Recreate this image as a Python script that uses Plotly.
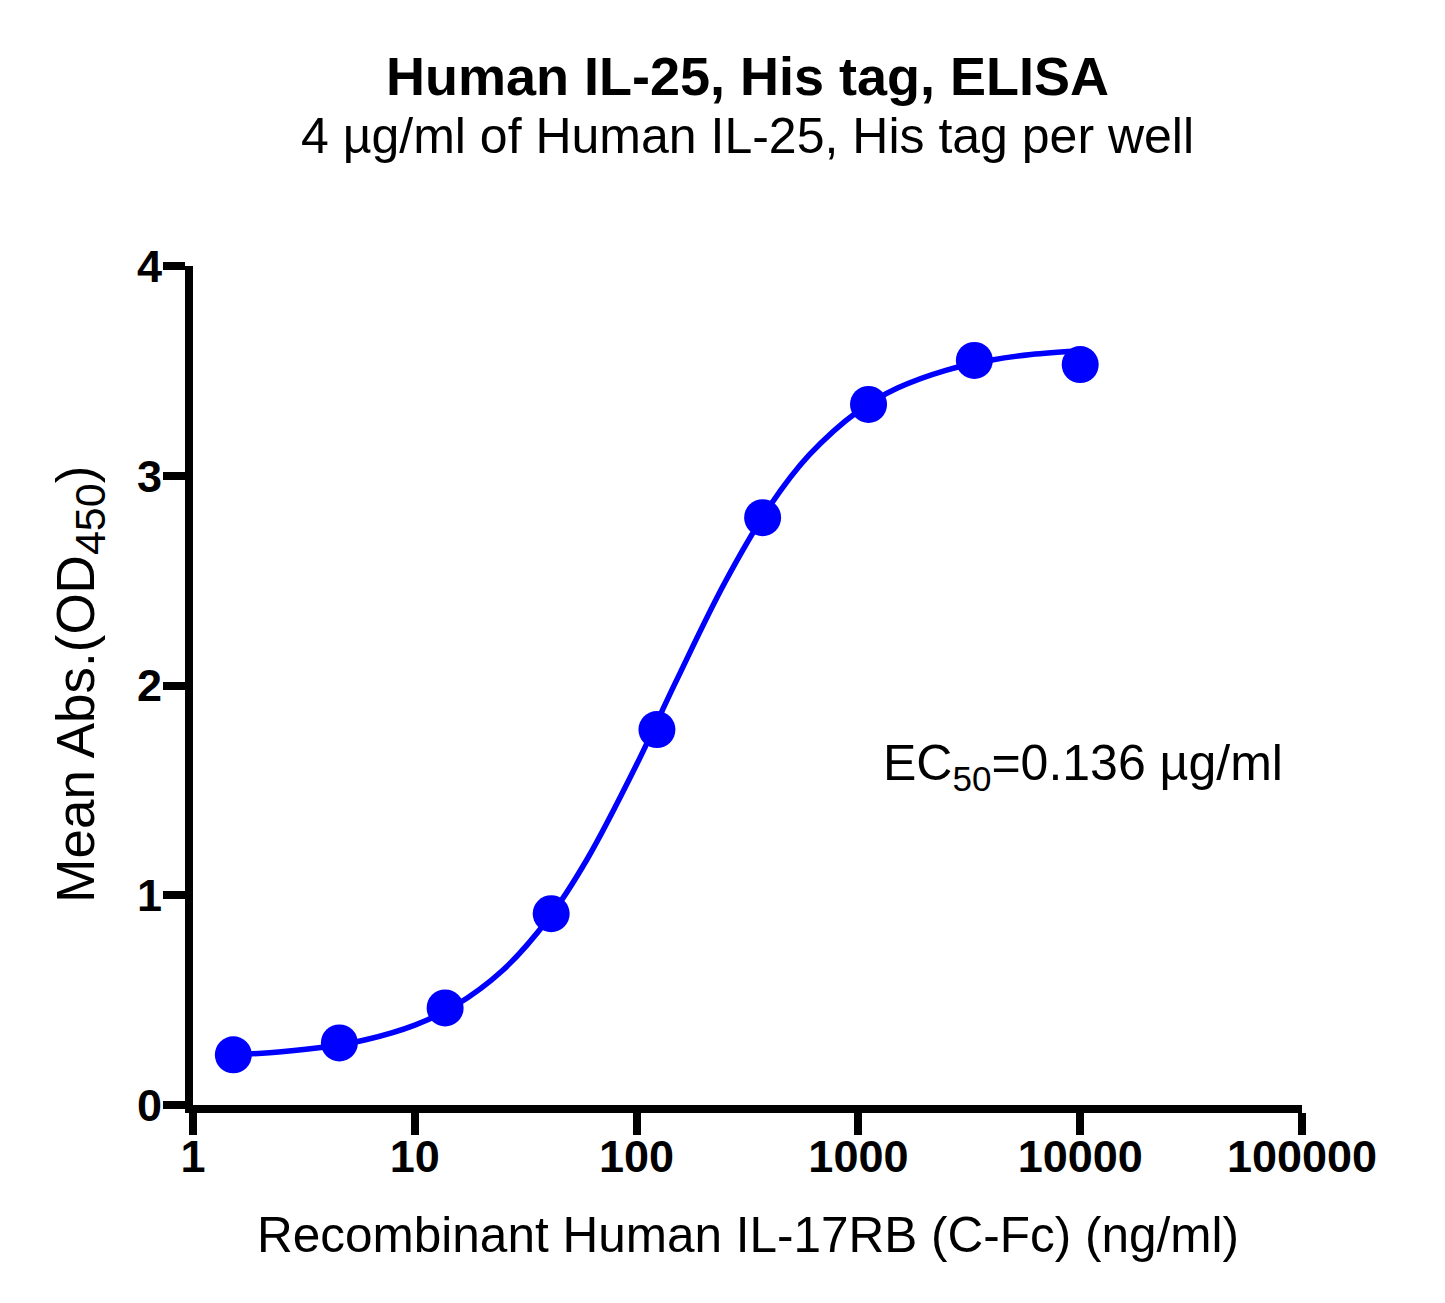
import plotly.graph_objects as go

# measured points (ng/ml vs mean OD450)
conc = [1.52, 4.57, 13.7, 41.2, 123.5, 370, 1111, 3333, 10000]
od450 = [0.239, 0.296, 0.463, 0.912, 1.79, 2.80, 3.34, 3.55, 3.53]

# fitted curve
curve_x = [1.52, 2.5, 4, 6, 10, 15, 25, 40, 60, 100, 150, 250, 400, 600,
           1000, 1500, 2500, 4000, 6000, 10000]
curve_y = [0.239, 0.254, 0.278, 0.311, 0.381, 0.470, 0.644, 0.888, 1.174,
           1.623, 2.016, 2.491, 2.858, 3.099, 3.309, 3.418, 3.504, 3.552,
           3.578, 3.596]

x_ticks = [1, 10, 100, 1000, 10000, 100000]
x_tick_labels = ["1", "10", "100", "1000", "10000", "100000"]
y_ticks = [0, 1, 2, 3, 4]

blue = "#0000FF"
font = "Arial, Liberation Sans, sans-serif"

fig = go.Figure()
fig.add_trace(go.Scatter(x=curve_x, y=curve_y, mode="lines",
                         line=dict(color=blue, width=5.5, shape="spline"),
                         hoverinfo="skip"))
fig.add_trace(go.Scatter(x=conc, y=od450, mode="markers",
                         marker=dict(color=blue, size=37)))

axis_style = dict(showline=True, linecolor="black", linewidth=8,
                  ticks="outside", ticklen=22, tickwidth=8, tickcolor="black",
                  showgrid=False, zeroline=False,
                  tickfont=dict(family=font, size=45, color="black", weight="bold"))
fig.update_xaxes(type="log", range=[0, 5], tickvals=x_ticks, ticktext=x_tick_labels,
                 ticklabelstandoff=-17, **axis_style)
fig.update_yaxes(range=[0, 4], tickvals=y_ticks, ticklabelstandoff=-8, **axis_style)

ann = [
    dict(text="<b>Human IL-25, His tag, ELISA</b>", x=0.5, y=1.2265, size=54),
    dict(text="4 µg/ml of Human IL-25, His tag per well", x=0.5, y=1.155, size=50),
    dict(text="Recombinant Human IL-17RB (C-Fc) (ng/ml)", x=0.5, y=-0.154, size=49.5),
]
for a in ann:
    fig.add_annotation(text=a["text"], x=a["x"], y=a["y"], xref="paper", yref="paper",
                       showarrow=False, xanchor="center", yanchor="middle",
                       font=dict(family=font, size=a["size"], color="black"))
fig.add_annotation(text='Mean Abs.(OD<sub><span style="font-size:43px">450</span></sub>)',
                   x=-0.102, y=0.502,
                   xref="paper", yref="paper", showarrow=False, textangle=-90,
                   xanchor="center", yanchor="middle",
                   font=dict(family=font, size=53, color="black"))
fig.add_annotation(text="EC<sub>50</sub>=0.136 µg/ml", x=0.62, y=0.403,
                   xref="paper", yref="paper", showarrow=False,
                   xanchor="left", yanchor="middle",
                   font=dict(family=font, size=50, color="black"))

# page body adds an 8px offset, so margins are shifted by 8px
fig.update_layout(width=1445, height=1303, showlegend=False,
                  margin=dict(l=185, r=151, t=258, b=206),
                  plot_bgcolor="white", paper_bgcolor="white")
fig.write_html("out.html")
